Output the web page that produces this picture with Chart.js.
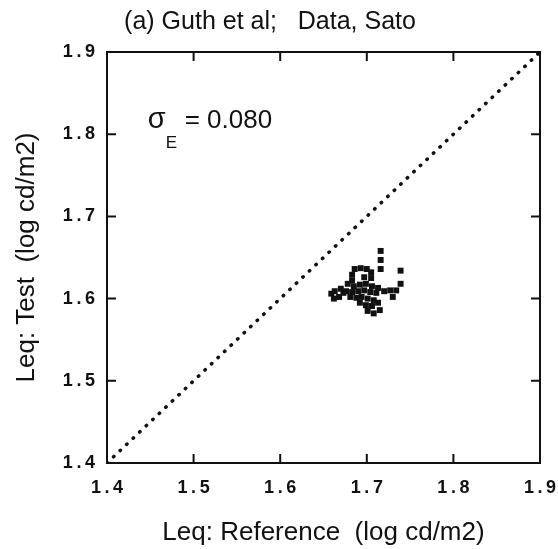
<!DOCTYPE html>
<html>
<head>
<meta charset="utf-8">
<script src="https://cdn.jsdelivr.net/npm/chart.js@4"></script>
<style>
    html, body { margin: 0; padding: 0; background: #fff; }
    #chart { display: block; }
</style>
</head>
<body>
<canvas id="chart" width="558" height="549"></canvas>
<script>
// Leq values (reference vs test), log cd/m2
var refLeq = [
    1.716, 1.716, 1.716, 1.739, 1.739, 1.727, 1.734, 1.730,
    1.686, 1.693, 1.700, 1.705, 1.683, 1.705, 1.683, 1.697,
    1.678, 1.685, 1.692, 1.699, 1.706, 1.713, 1.720,
    1.676, 1.683, 1.690, 1.697, 1.704, 1.711,
    1.659, 1.663, 1.668, 1.673, 1.662, 1.670,
    1.681, 1.688, 1.694, 1.701, 1.708, 1.692, 1.699, 1.706, 1.713, 1.701, 1.708, 1.715
];
var testLeq = [
    1.658, 1.647, 1.636, 1.634, 1.618, 1.610, 1.610, 1.602,
    1.636, 1.637, 1.636, 1.632, 1.629, 1.625, 1.622, 1.626,
    1.618, 1.615, 1.617, 1.618, 1.615, 1.613, 1.609,
    1.609, 1.608, 1.609, 1.610, 1.608, 1.607,
    1.606, 1.609, 1.602, 1.607, 1.600, 1.612,
    1.602, 1.601, 1.602, 1.600, 1.598, 1.595, 1.592, 1.591, 1.595, 1.585, 1.582, 1.586
];
var diagX = [1.4, 1.9];
var diagY = [1.4, 1.9];
var tickValues = [1.4, 1.5, 1.6, 1.7, 1.8, 1.9];
var sigmaText = "0.080";

var FONT = "'Liberation Sans', Arial, Helvetica, sans-serif";

function pts(xs, ys) {
    var out = [];
    for (var i = 0; i < xs.length; i++) out.push({ x: xs[i], y: ys[i] });
    return out;
}

function fmtTick(v) {
    return v.toFixed(1).split("").join("\u2009");
}

// frame, inward ticks, title and sigma note
var decor = {
    id: "decor",
    afterDraw: function(chart) {
        var ctx = chart.ctx;
        var a = chart.chartArea;
        var xs = chart.scales.x, ys = chart.scales.y;
        ctx.save();
        ctx.strokeStyle = "#111";
        ctx.lineWidth = 2;
        ctx.strokeRect(a.left, a.top, a.right - a.left, a.bottom - a.top);
        var tl = 9;
        ctx.beginPath();
        tickValues.forEach(function(v) {
            var px = xs.getPixelForValue(v);
            ctx.moveTo(px, a.bottom); ctx.lineTo(px, a.bottom - tl);
            ctx.moveTo(px, a.top); ctx.lineTo(px, a.top + tl);
            var py = ys.getPixelForValue(v);
            ctx.moveTo(a.left, py); ctx.lineTo(a.left + tl, py);
            ctx.moveTo(a.right, py); ctx.lineTo(a.right - tl, py);
        });
        ctx.stroke();

        ctx.fillStyle = "#111";
        ctx.textBaseline = "alphabetic";
        ctx.textAlign = "center";
        ctx.font = "25px " + FONT;
        ctx.fillText("(a) Guth et al;   Data, Sato", 270, 29);

        var sx = xs.getPixelForValue(1.447), sy = ys.getPixelForValue(1.8075);
        ctx.textAlign = "left";
        ctx.font = "29px " + FONT;
        ctx.fillText("\u03C3", sx, sy);
        ctx.font = "17px " + FONT;
        ctx.fillText("E", sx + 18, sy + 20);
        ctx.font = "26px " + FONT;
        ctx.fillText("= " + sigmaText, sx + 37, sy);
        ctx.restore();
    }
};

var ctx = document.getElementById("chart");
new Chart(ctx, {
    type: "scatter",
    data: {
        datasets: [
            {
                label: "Leq",
                data: pts(refLeq, testLeq),
                pointStyle: "rect",
                pointRadius: 4.2,
                backgroundColor: "#111",
                borderColor: "#111",
                borderWidth: 0
            },
            {
                label: "y = x",
                data: pts(diagX, diagY),
                showLine: true,
                pointRadius: 0,
                borderColor: "#111",
                borderWidth: 3.5,
                borderDash: [0.5, 8.5],
                borderCapStyle: "round"
            }
        ]
    },
    options: {
        responsive: false,
        animation: false,
        layout: { padding: { top: 52, right: 18, left: 0, bottom: 0 } },
        plugins: {
            legend: { display: false },
            tooltip: { enabled: false }
        },
        scales: {
            x: {
                type: "linear",
                min: 1.4,
                max: 1.9,
                afterBuildTicks: function(s) { s.ticks = tickValues.map(function(v) { return { value: v }; }); },
                afterFit: function(s) { s.height = 86; s.paddingLeft = 0; s.paddingRight = 0; },
                grid: { display: false, drawTicks: false },
                border: { display: false },
                ticks: {
                    padding: 14,
                    color: "#111",
                    font: { family: FONT, size: 18, weight: "bold" },
                    callback: function(v) { return fmtTick(v); }
                },
                title: {
                    display: true,
                    text: "Leq: Reference  (log cd/m2)",
                    color: "#111",
                    font: { family: FONT, size: 26 },
                    padding: { top: 1, bottom: 1 }
                }
            },
            y: {
                type: "linear",
                min: 1.4,
                max: 1.9,
                afterBuildTicks: function(s) { s.ticks = tickValues.map(function(v) { return { value: v }; }); },
                afterFit: function(s) { s.width = 107; s.paddingTop = 0; s.paddingBottom = 0; },
                grid: { display: false, drawTicks: false },
                border: { display: false },
                ticks: {
                    padding: 12,
                    color: "#111",
                    font: { family: FONT, size: 18, weight: "bold" },
                    callback: function(v) { return fmtTick(v); }
                },
                title: {
                    display: true,
                    text: "Leq: Test  (log cd/m2)",
                    color: "#111",
                    font: { family: FONT, size: 26 },
                    padding: { top: 11, bottom: 11 }
                }
            }
        }
    },
    plugins: [decor]
});
</script>
</body>
</html>
